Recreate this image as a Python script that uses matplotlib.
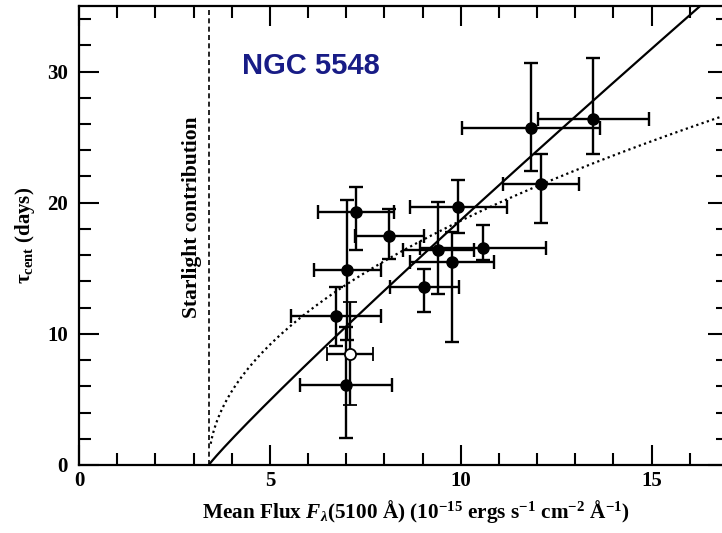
import matplotlib
matplotlib.use('Agg')
import matplotlib.pyplot as plt
import numpy as np
from matplotlib.ticker import MultipleLocator

# Filled points: mean flux, lag, and error bar ends
flux     = [7.25, 7.03, 6.72, 8.12, 9.05, 9.41, 9.76, 9.93, 10.57, 12.11, 11.85, 13.47, 6.99]
flux_lo  = [6.27, 6.16, 5.55, 7.23, 8.14, 8.49, 8.66, 8.66, 8.93, 11.10, 10.03, 12.02, 5.79]
flux_hi  = [8.25, 7.90, 7.90, 9.03, 9.96, 10.34, 10.87, 11.20, 12.23, 13.10, 13.66, 14.93, 8.20]
tau      = [19.3, 14.85, 11.35, 17.47, 13.58, 16.37, 15.49, 19.70, 16.55, 21.40, 25.72, 26.40, 6.12]
tau_lo   = [16.4, 9.50, 9.10, 15.70, 11.68, 13.02, 9.37, 17.70, 15.60, 18.45, 22.40, 23.74, 2.03]
tau_hi   = [21.2, 20.20, 13.60, 19.55, 14.98, 20.05, 17.75, 21.70, 18.33, 23.70, 30.67, 31.05, 10.50]

# Open point
open_flux, open_flux_lo, open_flux_hi = [7.09], [6.50], [7.70]
open_tau, open_tau_lo, open_tau_hi = [8.45], [4.57], [12.40]

# Starlight contribution and fit parameters tau = A (F - F_gal)^alpha
f_gal = 3.4
fit_solid = (3.17, 0.94)
fit_dotted = (7.25, 0.5)

x_ticks = [0, 5, 10, 15]
y_ticks = [0, 10, 20, 30]

plt.rcParams['mathtext.fontset'] = 'custom'
plt.rcParams['mathtext.rm'] = 'Liberation Serif:bold'
plt.rcParams['mathtext.it'] = 'Liberation Serif:italic:bold'
plt.rcParams['mathtext.bf'] = 'Liberation Serif:bold'

fig = plt.figure(figsize=(7.22, 5.33), dpi=100)
ax = fig.add_axes([79/722, 1-465/533, (728-79)/722, (465-6)/533])
ax.set_xlim(0, 17)
ax.set_ylim(0, 35)

for s in ax.spines.values():
    s.set_linewidth(1.6)

ax.xaxis.set_major_locator(MultipleLocator(5))
ax.xaxis.set_minor_locator(MultipleLocator(1))
ax.yaxis.set_major_locator(MultipleLocator(10))
ax.yaxis.set_minor_locator(MultipleLocator(2))
ax.tick_params(which='both', direction='in', top=True, right=True, width=1.5)
ax.tick_params(which='major', length=14.5)
ax.tick_params(which='minor', length=8.5)
ax.tick_params(axis='x', which='major', pad=4)
ax.tick_params(axis='y', which='major', pad=8)
ax.set_xticks(x_ticks)
ax.set_yticks(y_ticks)
for lab in ax.get_xticklabels() + ax.get_yticklabels():
    lab.set_fontfamily('Liberation Serif')
    lab.set_fontweight('bold')
    lab.set_fontsize(15)

# starlight line
ax.axvline(f_gal, color='black', linestyle=(0, (3, 2)), linewidth=1.2)

# fits
xs = np.linspace(f_gal, 17, 400)
A, a = fit_solid
ax.plot(xs, A * (xs - f_gal) ** a, color='black', linewidth=1.6)
xd = np.linspace(f_gal + 0.05, 17, 400)
A, a = fit_dotted
ax.plot(xd, A * (xd - f_gal) ** a, color='black', linewidth=1.6, linestyle=(0, (1, 1.5)))

fl = np.array(flux); t = np.array(tau)
xerr = [fl - np.array(flux_lo), np.array(flux_hi) - fl]
yerr = [t - np.array(tau_lo), np.array(tau_hi) - t]
ax.errorbar(fl, t, xerr=xerr, yerr=yerr, fmt='o', color='black', markersize=8,
            elinewidth=1.7, capsize=5, capthick=1.7, zorder=3)

ofl = np.array(open_flux); ot = np.array(open_tau)
ax.errorbar(ofl, ot, xerr=[ofl - np.array(open_flux_lo), np.array(open_flux_hi) - ofl],
            yerr=[ot - np.array(open_tau_lo), np.array(open_tau_hi) - ot],
            fmt='o', color='black', mfc='white', mec='black', mew=1.3, markersize=8,
            elinewidth=1.7, capsize=5, capthick=1.7, zorder=4)

ax.text(2.95, 18.9, 'Starlight contribution', rotation=90, ha='center', va='center',
        fontfamily='Liberation Serif', fontweight='bold', fontsize=15.5)
ax.text(4.27, 29.85, 'NGC 5548', ha='left', va='baseline', color='#181c86',
        fontfamily='Liberation Sans', fontweight='bold', fontsize=21)

ax.set_xlabel(r'Mean Flux $F_\lambda$(5100 Å) (10$^{-15}$ ergs s$^{-1}$ cm$^{-2}$ Å$^{-1}$)',
              fontfamily='Liberation Serif', fontweight='bold', fontsize=15.3, labelpad=4)
ax.xaxis.set_label_coords((416 - 79) / 649, -0.072)
ax.set_ylabel(r'τ$_{\rm cent}$ (days)', fontfamily='Liberation Serif', fontweight='bold',
              fontsize=15, labelpad=7)

fig.savefig('out.png', dpi=100)
